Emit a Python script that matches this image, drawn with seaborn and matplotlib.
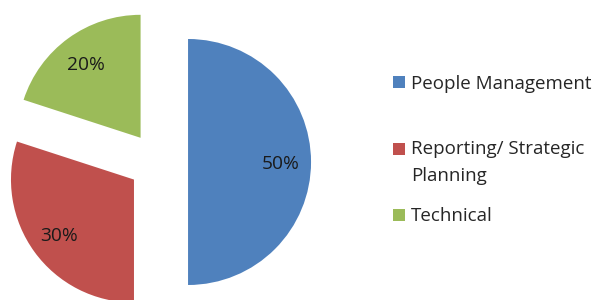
import matplotlib
matplotlib.use("Agg")
import matplotlib.pyplot as plt
from matplotlib.patches import Rectangle
import seaborn as sns

categories = ["People Management", "Reporting/ Strategic\nPlanning", "Technical"]
shares = [50, 30, 20]
colors = ["#4F81BD", "#C0504D", "#9BBB59"]

sns.set_theme(style="white")
plt.rcParams["font.family"] = ["Open Sans", "DejaVu Sans"]

fig = plt.figure(figsize=(5.98, 3.0), dpi=100)
ax = fig.add_axes([0, 0, 1, 1])
ax.axis("off")

wedges, texts, autotexts = ax.pie(
    shares,
    colors=colors,
    startangle=90,
    counterclock=False,
    explode=[0.243] * len(shares),
    autopct="%1.0f%%",
    pctdistance=0.75,
    radius=1.0,
    wedgeprops=dict(linewidth=0),
    textprops=dict(color="#1a1a1a", fontsize=13.8),
)
for t in autotexts:
    t.set_va("center_baseline")
ax.set_xlim(-1.2858, 3.576)
ax.set_ylim(-1.122, 1.317)

# legend (manual, Excel-like spacing)
W, H = 598.0, 300.0
square_y = [82.5, 148.5, 215]
baselines = [89, 154, 221]
for col, lab, sy, by in zip(colors, categories, square_y, baselines):
    fig.patches.append(Rectangle((393 / W, 1 - (sy + 6) / H), 12 / W, 12 / H,
                                 transform=fig.transFigure, facecolor=col,
                                 edgecolor="none"))
    for i, line in enumerate(lab.split("\n")):
        fig.text(411 / W, 1 - (by + 27 * i) / H, line, va="baseline", ha="left",
                 fontsize=13.5, color="#262626")

fig.savefig("out.png", dpi=100)
